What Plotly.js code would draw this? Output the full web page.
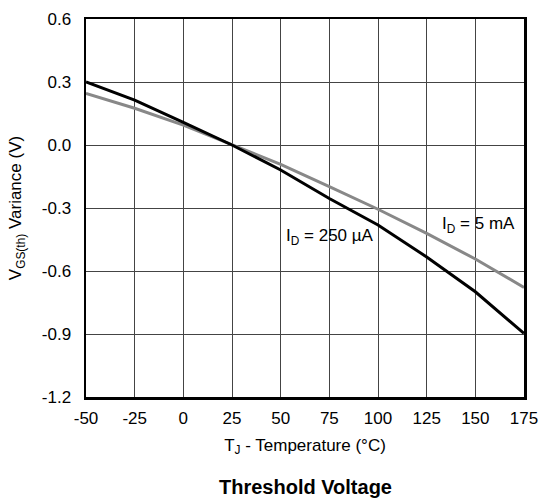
<!DOCTYPE html>
<html>
<head>
<meta charset="utf-8">
<script src="https://cdn.plot.ly/plotly-3.0.1.min.js"></script>
<style>html,body{margin:0;padding:0;background:#fff;}#chart{width:541px;height:498px;}</style>
</head>
<body>
<div id="chart"></div>
<script>
var temperature = [-50, -25, 0, 25, 50, 75, 100, 125, 150, 175];
var id250uA = [0.30, 0.214, 0.108, 0, -0.119, -0.255, -0.381, -0.533, -0.699, -0.897];
var id5mA = [0.246, 0.175, 0.095, 0, -0.092, -0.198, -0.306, -0.421, -0.543, -0.678];
var yTicks = [0.6, 0.3, 0.0, -0.3, -0.6, -0.9, -1.2];
var yTickText = ['0.6', '0.3', '0.0', '-0.3', '-0.6', '-0.9', '-1.2'];
var xTicks = [-50, -25, 0, 25, 50, 75, 100, 125, 150, 175];
var xTickText = ['-50', '-25', '0', '25', '50', '75', '100', '125', '150', '175'];

var font = 'Liberation Sans, Arial, Helvetica, sans-serif';
var fs = 17;

var traces = [
  {x: temperature, y: id5mA, mode: 'lines', line: {color: '#888888', width: 3}, hoverinfo: 'skip'},
  {x: temperature, y: id250uA, mode: 'lines', line: {color: '#000000', width: 3}, hoverinfo: 'skip'}
];

var layout = {
  width: 541, height: 498,
  margin: {l: 86, r: 17, t: 19, b: 101},
  paper_bgcolor: '#fff', plot_bgcolor: '#fff',
  showlegend: false,
  font: {family: font, size: fs, color: '#000'},
  xaxis: {
    range: [-50, 175], tickvals: xTicks, ticktext: xTickText, ticks: '',
    ticklabelstandoff: 4,
    showgrid: true, gridcolor: '#444', gridwidth: 1,
    showline: true, mirror: true, linecolor: '#000', linewidth: 2.5,
    zeroline: false, fixedrange: true,
    tickfont: {family: font, size: fs},
    title: {text: 'T<sub>J</sub> - Temperature (°C)', font: {family: font, size: fs}, standoff: 12}
  },
  yaxis: {
    range: [-1.2, 0.6], tickvals: yTicks, ticktext: yTickText, ticks: '',
    ticklabelstandoff: 9,
    showgrid: true, gridcolor: '#444', gridwidth: 1,
    showline: true, mirror: true, linecolor: '#000', linewidth: 2.5,
    zeroline: false, fixedrange: true,
    tickfont: {family: font, size: fs},
    title: {text: 'V<sub>GS(th)</sub> Variance (V)', font: {family: font, size: fs}, standoff: 16}
  },
  annotations: [
    {x: 75.1, y: -0.438, xref: 'x', yref: 'y', text: 'I<sub>D</sub> = 250 µA', showarrow: false, font: {family: font, size: fs}},
    {x: 151.6, y: -0.381, xref: 'x', yref: 'y', text: 'I<sub>D</sub> = 5 mA', showarrow: false, font: {family: font, size: fs}},
    {x: 0.5, y: 0, xref: 'paper', yref: 'paper', yshift: -103, text: '<b>Threshold Voltage</b>', showarrow: false, font: {family: font, size: 20}}
  ]
};

Plotly.newPlot('chart', traces, layout, {displayModeBar: false, staticPlot: true});
</script>
</body>
</html>
